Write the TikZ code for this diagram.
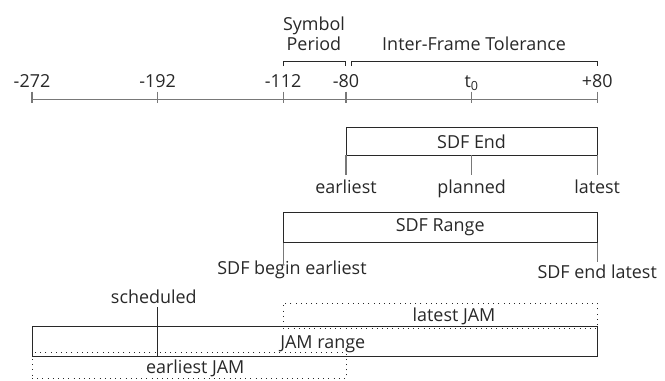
\documentclass[tikz,border=0pt]{standalone}
\usepackage{fontspec}
\setmainfont{Open Sans}
\usepackage{xcolor}
\usetikzlibrary{positioning}
\definecolor{axisgray}{RGB}{120,120,120}
\definecolor{boxline}{RGB}{40,40,40}

\begin{document}
\begin{tikzpicture}[x=62.8bp, y=-1bp,
    every node/.style={font=\fontsize{18}{21}\selectfont, text=boxline, inner sep=0pt, outer sep=0pt},
    lbl/.style={anchor=base},
    axisline/.style={draw=axisgray, line width=1.2bp},
    tick/.style={draw=axisgray, line width=1.2bp},
    brace/.style={draw=boxline, line width=0.8bp},
    rng/.style={draw=boxline, line width=0.9bp, anchor=north west, minimum width=#1*62.8bp},
    jam/.style={draw=boxline, line width=0.9bp, dash pattern=on 1bp off 4.2bp,
                anchor=north west, minimum width=#1*62.8bp, minimum height=25bp}
]
\useasboundingbox (-0.5096,0) rectangle (10.080,381);

% ---- Time axis ----
\foreach \n/\x/\t in {m272/0/-272, m192/2/-192, m112/4/-112, m80/5/-80, t0/7/t\textsubscript{0}, p80/9/+80} {
  \coordinate (\n) at (\x,99.3);
  \node[lbl] (l\n) at (\x,87.7) {\t};
  \draw[tick] ([yshift=7.6bp]\n) -- ([yshift=-3.7bp]\n);
}
\draw[axisline] (m272) -- (p80);

% ---- Symbol period / tolerance ----
\node[lbl] (sym) at (4.49,30.7) {Symbol};
\node[lbl] (per) at (4.49,50.7) {Period};
\node[lbl] (ift) at (7.04,50.7) {Inter-Frame Tolerance};
\draw[brace] (4,66) -- (4,61.7) -- (4.99,61.7) -- (4.99,66);
\draw[brace] (5.09,66) -- (5.09,61.7) -- (9,61.7) -- (9,66);

% ---- SDF End ----
\node[rng=4, minimum height=28bp] (sdfend) at (5,127.3) {};
\node at (sdfend.center) {SDF End};
\node[lbl] (earliest) at (5,194) {earliest};
\node[lbl] (planned)  at (7,194) {planned};
\node[lbl] (latest)   at (9,194) {latest};
\draw[tick] (sdfend.south west) -- ([yshift=5bp]earliest.north);
\draw[tick] (sdfend.south) -- ([yshift=5bp]planned.north);
\draw[tick] (sdfend.south east) -- ([yshift=5bp]latest.north);

% ---- SDF Range ----
\node[rng=5, minimum height=30.4bp] (sdfrange) at (4,212.3) {};
\node at (sdfrange.center) {SDF Range};
\node[lbl] (sdfbegin) at (4.14,275) {SDF begin earliest};
\node[lbl] (sdfendl)  at (9,279)    {SDF end latest};
\draw[tick] (sdfrange.south west) -- ([yshift=-3bp]sdfrange.south west |- sdfbegin.north);
\draw[tick] (sdfrange.south east) -- ([yshift=3bp]sdfrange.south east |- sdfendl.north);

% ---- JAM ----
\node[rng=9, minimum height=30bp] (jamrange) at (0,326.5) {};
\node[jam=5] (latestjam)   at (4,303.3) {};
\node[jam=5, minimum height=26bp] (earliestjam) at (0,352.7) {};
\node[lbl] at (6.72,322) {latest JAM};
\node[lbl] at (4.63,349) {JAM range};
\node[lbl] at (2.6,374) {earliest JAM};
\node[lbl] (sched) at (1.94,304) {scheduled};
\coordinate (s0) at ([yshift=-3bp]jamrange.north west |- sched.south);
\coordinate (s0) at ([xshift=2*62.8bp]s0);
\draw[brace] (s0) -- (s0 |- jamrange.south);

\end{tikzpicture}
\end{document}
